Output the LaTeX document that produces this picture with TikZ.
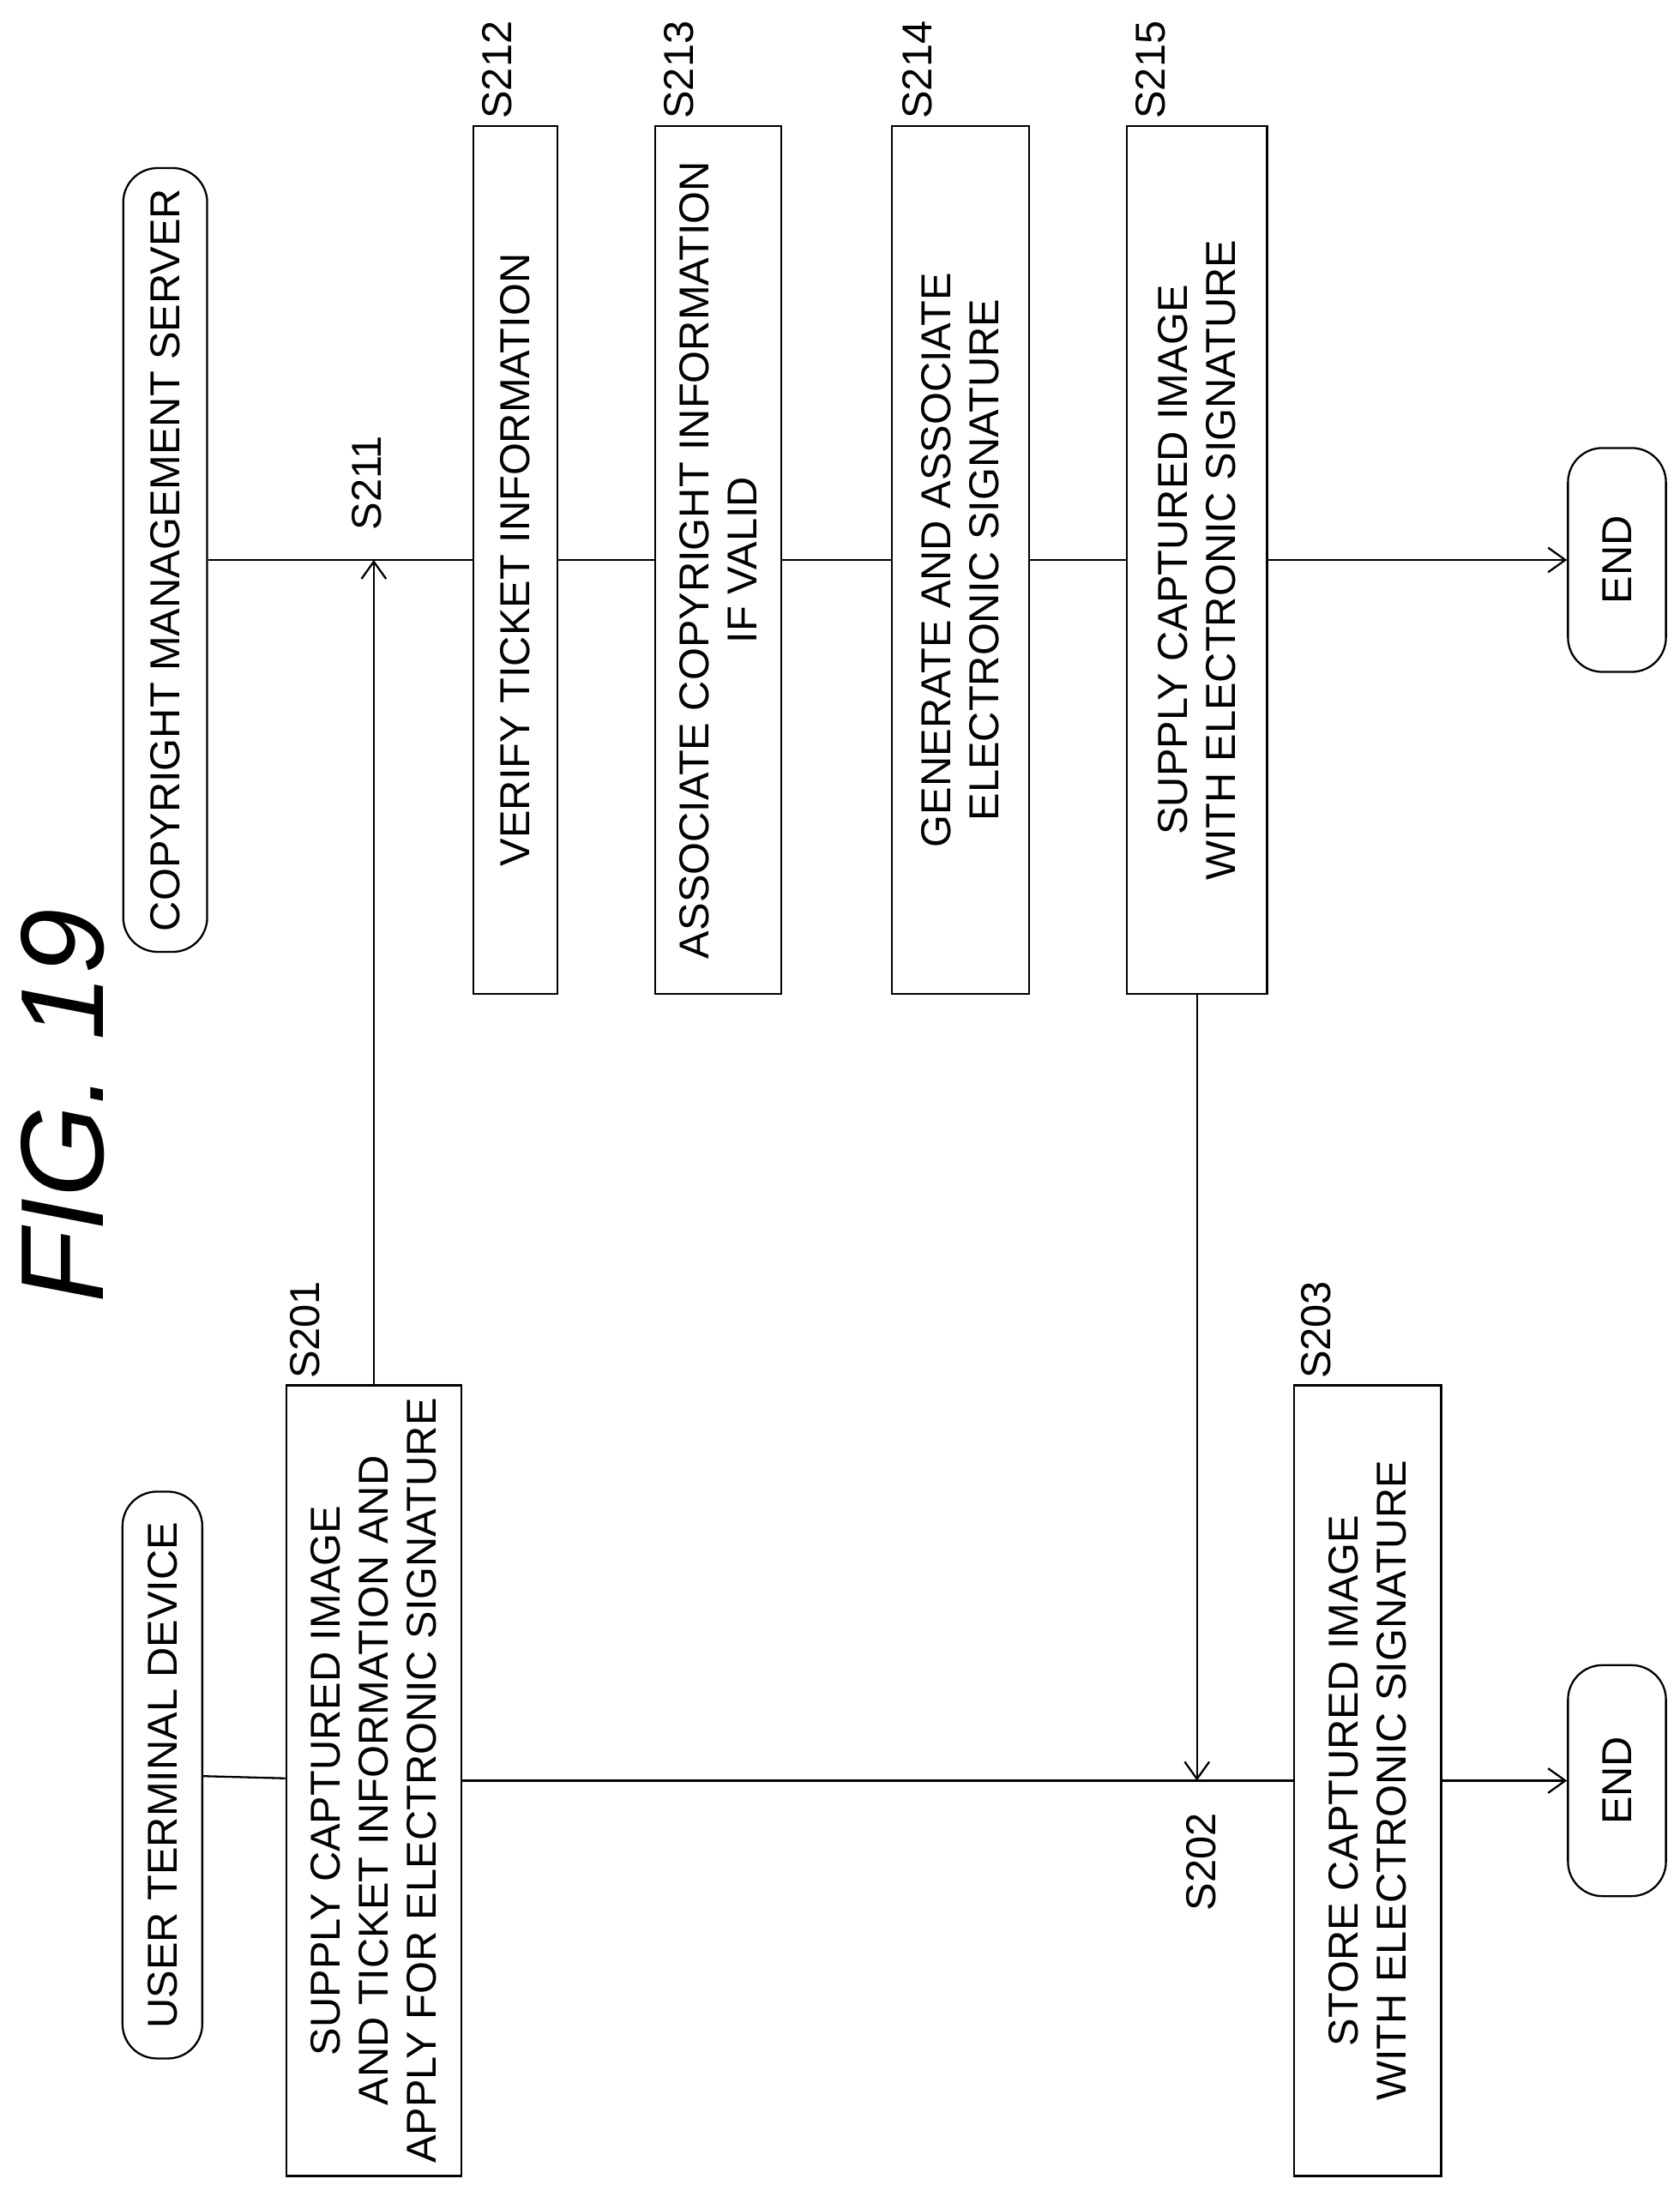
\documentclass[tikz,border=0pt]{standalone}
\usepackage{fontspec}
\setmainfont{Liberation Sans}
\usetikzlibrary{arrows.meta}

\begin{document}
\begin{tikzpicture}[
			x = 0.02cm, y = -0.02cm,
			every node/.style = {font=\fontsize{17}{19.5}\selectfont, rotate=90, align=center},
			proc/.style = {draw, thick, inner sep=0pt},
			term/.style = {draw, thick, rounded corners=14pt, inner sep=0pt},
			lbl/.style = {inner sep=0pt},
			arr/.style = {thick, -{Straight Barb[length=7pt,width=10pt]}},
			ln/.style = {thick}]

			\useasboundingbox (0,0) rectangle (1200,1578);

			\node[font=\fontsize{48}{50}\selectfont\itshape] (title) at (45,790) {FIG. 19};

			% user terminal device lane
			\node[term, minimum width=8.1cm, minimum height=1.14cm] (user) at (116,1268) {USER TERMINAL DEVICE};
			\node[proc, minimum width=11.3cm, minimum height=2.5cm] (s201) at (267,1272) {SUPPLY CAPTURED IMAGE\\AND TICKET INFORMATION AND\\APPLY FOR ELECTRONIC SIGNATURE};
			\node[proc, minimum width=11.3cm, minimum height=2.1cm] (s203) at (977,1272) {STORE CAPTURED IMAGE\\WITH ELECTRONIC SIGNATURE};
			\node[term, minimum width=3.3cm, minimum height=1.4cm] (end1) at (1155,1272) {END};

			% copyright management server lane
			\node[term, minimum width=11.2cm, minimum height=1.2cm] (server) at (118,400) {COPYRIGHT MANAGEMENT SERVER};
			\node[proc, minimum width=12.4cm, minimum height=1.2cm] (s212) at (368,400) {VERIFY TICKET INFORMATION};
			\node[proc, minimum width=12.4cm, minimum height=1.8cm] (s213) at (513,400) {ASSOCIATE COPYRIGHT INFORMATION\\IF VALID};
			\node[proc, minimum width=12.4cm, minimum height=1.96cm] (s214) at (686,400) {GENERATE AND ASSOCIATE\\ELECTRONIC SIGNATURE};
			\node[proc, minimum width=12.4cm, minimum height=2cm] (s215) at (855,400) {SUPPLY CAPTURED IMAGE\\WITH ELECTRONIC SIGNATURE};
			\node[term, minimum width=3.2cm, minimum height=1.4cm] (end2) at (1155,400) {END};

			% step labels
			\node[lbl] (l201) at (218,950) {S201};
			\node[lbl] (l211) at (262,345) {S211};
			\node[lbl] (l212) at (355,50) {S212};
			\node[lbl] (l213) at (485,50) {S213};
			\node[lbl] (l214) at (655,50) {S214};
			\node[lbl] (l215) at (822,50) {S215};
			\node[lbl] (l202) at (858,1330) {S202};
			\node[lbl] (l203) at (940,950) {S203};

			\coordinate (s211) at (267,400);
			\coordinate (s202) at (855,1272);
			\coordinate (s215out) at (855,710);

			\draw[ln] (user) -- (s201);
			\draw[ln] (s201) -- (s203);
			\draw[arr] (s203) -- (end1);
			\draw[arr] (s201.east) -- (s211);
			\draw[ln] (server) -- (s212);
			\draw[ln] (s212) -- (s213);
			\draw[ln] (s213) -- (s214);
			\draw[ln] (s214) -- (s215);
			\draw[arr] (s215) -- (end2);
			\draw[arr] (s215out) -- (s202);

		\end{tikzpicture}
\end{document}
